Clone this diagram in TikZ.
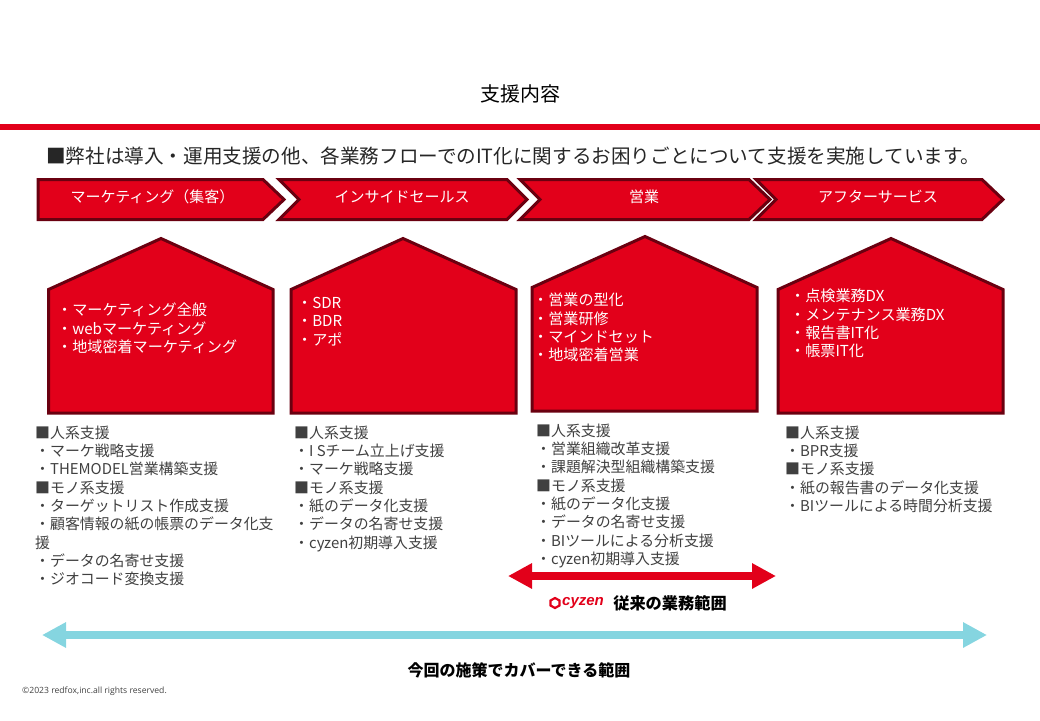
\documentclass[tikz,border=0pt]{standalone}
\usepackage{fontspec}
\setmainfont{Noto Sans CJK JP}
\newfontfamily\copyfont{Open Sans}
\newfontfamily\logofont{Liberation Sans}
\usetikzlibrary{arrows.meta}
\definecolor{redfox}{HTML}{E2001A}
\definecolor{darkred}{HTML}{6A0010}
\definecolor{skyline}{HTML}{85D5E0}
\definecolor{bodygray}{HTML}{404040}
\tikzset{
  redbox/.style={draw=darkred, fill=redfox, line width=3pt, line join=miter},
  steplabel/.style={text=white, inner sep=0pt, font=\fontsize{15}{18}\selectfont},
  houselabel/.style={text=white, inner sep=0pt, anchor=north west, align=left, font=\fontsize{15.1}{18.3}\selectfont},
  listlabel/.style={text=bodygray, inner sep=0pt, anchor=north west, align=left, font=\fontsize{14.9}{18.3}\selectfont},
  rangearrow/.style={line width=8pt, {Triangle[length=24pt,width=24pt]}-{Triangle[length=24pt,width=24pt]}},
}
\begin{document}
\begin{tikzpicture}[x=1pt, y=-1pt]
  \useasboundingbox (0,0) rectangle (1040,720);
  % header
  \node[inner sep=0pt, font=\fontsize{20}{24}\selectfont] (title) at (520,94) {支援内容};
  \fill[redfox] (0,123.5) rectangle (1040,130);
  \node[inner sep=0pt, anchor=west, text=black!85, font=\fontsize{19.6}{22}\selectfont] (lead) at (46,156) {■弊社は導入・運用支援の他、各業務フローでのIT化に関するお困りごとについて支援を実施しています。};
  % chevrons
  \draw[redbox] (38,179.5) -- (263,179.5) -- (284,199.5) -- (263,219.5) -- (38,219.5) -- cycle;
  \draw[redbox] (279,179.5) -- (507,179.5) -- (527,199.5) -- (507,219.5) -- (279,219.5) -- (299,199.5) -- cycle;
  \draw[redbox] (520,179.5) -- (749,179.5) -- (770,199.5) -- (749,219.5) -- (520,219.5) -- (540,199.5) -- cycle;
  \draw[redbox] (756,179.5) -- (982,179.5) -- (1003,199.5) -- (982,219.5) -- (756,219.5) -- (776,199.5) -- cycle;
  \node[steplabel] (marketing) at (152.5,197) {マーケティング（集客）};
  \node[steplabel] (inside) at (402,197) {インサイドセールス};
  \node[steplabel] (sales) at (644,197) {営業};
  \node[steplabel] (after) at (878,197) {アフターサービス};
  % houses
  \draw[redbox] (161,238.5) -- (273,289.5) -- (273,413) -- (48.5,413) -- (48.5,289.5) -- cycle;
  \draw[redbox] (403,238.5) -- (516,289.5) -- (516,413) -- (291,413) -- (291,289.5) -- cycle;
  \draw[redbox] (645,236.5) -- (757,287.5) -- (757,411) -- (532,411) -- (532,287.5) -- cycle;
  \draw[redbox] (891,238.5) -- (1003,289.5) -- (1003,413) -- (778,413) -- (778,289.5) -- cycle;
  \node[houselabel] (house1) at (57,303) {・マーケティング全般\\・webマーケティング\\・地域密着マーケティング};
  \node[houselabel] (house2) at (297,297) {・SDR\\・BDR\\・アポ};
  \node[houselabel] (house3) at (533,293) {・営業の型化\\・営業研修\\・マインドセット\\・地域密着営業};
  \node[houselabel] (house4) at (790,289) {・点検業務DX\\・メンテナンス業務DX\\・報告書IT化\\・帳票IT化};
  % lists
  \node[listlabel] (list1) at (35,425.5) {■人系支援\\・マーケ戦略支援\\・THEMODEL営業構築支援\\■モノ系支援\\・ターゲットリスト作成支援\\・顧客情報の紙の帳票のデータ化支\\援\\・データの名寄せ支援\\・ジオコード変換支援};
  \node[listlabel] (list2) at (294,425.5) {■人系支援\\・I Sチーム立上げ支援\\・マーケ戦略支援\\■モノ系支援\\・紙のデータ化支援\\・データの名寄せ支援\\・cyzen初期導入支援};
  \node[listlabel] (list3) at (536,423.5) {■人系支援\\・営業組織改革支援\\・課題解決型組織構築支援\\■モノ系支援\\・紙のデータ化支援\\・データの名寄せ支援\\・BIツールによる分析支援\\・cyzen初期導入支援};
  \node[listlabel] (list4) at (785,425.5) {■人系支援\\・BPR支援\\■モノ系支援\\・紙の報告書のデータ化支援\\・BIツールによる時間分析支援};
  % ranges
  \coordinate (old1) at (508,576);
  \coordinate (old2) at (776,576);
  \draw[rangearrow, redfox] (old1) -- (old2);
  \draw[redfox, line width=2.2pt] (550.5,600.5) -- (555,598) -- (559.5,600.5) -- (559.5,605.5) -- (555,608) -- (550.5,605.5) -- cycle;
  \node[inner sep=0pt, text=redfox, font=\logofont\fontsize{15}{16}\selectfont\bfseries\itshape] (cyzen) at (583,603.5) {cyzen};
  \node[inner sep=0pt, font=\fontsize{16.2}{18}\selectfont\bfseries] (oldscope) at (670,603) {従来の業務範囲};
  \coordinate (new1) at (42,635);
  \coordinate (new2) at (987,635);
  \draw[rangearrow, skyline] (new1) -- (new2);
  \node[inner sep=0pt, font=\fontsize{16}{18}\selectfont\bfseries] (newscope) at (519,670) {今回の施策でカバーできる範囲};
  \node[inner sep=0pt, anchor=west, text=bodygray, font=\copyfont\fontsize{8.6}{10}\selectfont] (copy) at (22,691.5) {©2023 redfox,inc.all rights reserved.};
\end{tikzpicture}
\end{document}
